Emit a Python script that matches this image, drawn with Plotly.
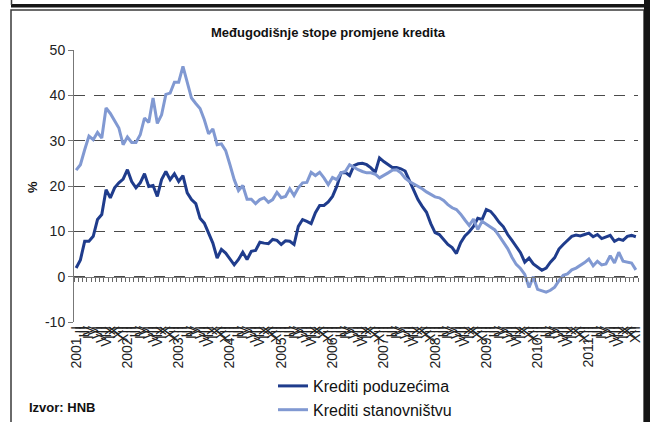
import plotly.graph_objects as go

# ---- data -------------------------------------------------------------
years = list(range(2001, 2012))
roman = ["I", "II", "III", "IV", "V", "VI", "VII", "VIII", "IX", "X", "XI", "XII"]
periods = [f"{y}-{m:02d}" for y in years for m in range(1, 13)]
tick_labels = [f"{y}. I" if m == 1 else roman[m - 1] for y in years for m in range(1, 13)]

krediti_poduzecima = [
    1.9, 3.7, 7.8, 7.8, 8.9, 12.6, 13.7, 19.2, 17.4, 19.6, 20.7, 21.5,
    23.6, 21.0, 19.6, 20.7, 22.7, 19.9, 20.1, 17.7, 21.4, 23.2, 21.4, 22.7,
    21.0, 22.3, 18.5, 17.0, 16.1, 12.9, 11.8, 9.6, 7.4, 4.1, 6.0, 5.2,
    3.8, 2.6, 3.8, 5.4, 3.8, 5.6, 5.8, 7.6, 7.4, 7.3, 8.2, 8.0,
    7.1, 7.9, 7.8, 7.1, 11.1, 12.6, 12.2, 11.7, 14.1, 15.7, 15.7, 16.5,
    17.7, 19.9, 22.9, 23.0, 22.3, 24.5, 24.9, 25.0, 24.7, 24.0, 23.0, 26.2,
    25.4, 24.8, 24.1, 24.1, 23.8, 23.3, 21.2, 18.9, 17.0, 15.5, 14.2, 11.7,
    9.7, 9.3, 8.3, 7.1, 6.4, 5.1, 7.5, 9.0, 9.9, 11.1, 12.9, 12.6,
    14.8, 14.4, 13.3, 12.0, 11.0, 9.3, 8.0, 6.7, 5.3, 3.2, 4.1, 2.8,
    2.1, 1.4, 1.9, 3.2, 4.2, 6.1, 7.1, 8.0, 8.9, 9.2, 9.0, 9.3,
    9.6, 8.8, 9.3, 8.4, 8.8, 9.1, 7.8, 8.3, 8.0, 8.9, 9.1, 8.8,
]

krediti_stanovnistvu = [
    23.5, 24.7, 28.0, 31.0, 30.2, 31.8, 30.6, 37.2, 36.0, 34.3, 32.8, 29.1,
    30.8, 29.6, 29.6, 31.3, 35.0, 34.0, 39.4, 33.8, 35.7, 40.2, 40.5, 42.9,
    42.9, 46.4, 42.7, 39.4, 38.2, 37.1, 34.6, 31.5, 32.6, 29.1, 29.3, 27.8,
    24.7, 21.4, 19.0, 20.1, 17.1, 17.1, 16.1, 17.0, 17.4, 16.4, 17.0, 18.6,
    17.4, 17.7, 19.4, 17.9, 19.6, 20.7, 20.8, 23.0, 22.3, 23.0, 21.8, 20.3,
    21.9, 21.4, 22.9, 23.2, 24.7, 24.1, 23.6, 23.2, 22.9, 22.9, 22.6, 21.8,
    22.3, 22.9, 23.5, 23.6, 22.9, 21.7, 21.0, 20.5, 20.0, 19.4, 18.7, 18.1,
    17.6, 17.4, 16.8, 15.9, 15.2, 14.8, 13.8, 12.5, 11.3, 12.7, 10.4, 12.2,
    11.6, 11.0, 10.3, 9.0, 7.7, 6.2, 4.3, 2.7, 1.8, 0.5, -2.4, 0.0,
    -2.8, -3.1, -3.4, -3.0, -2.3, -0.9, 0.3, 0.6, 1.5, 1.9, 2.5, 3.1,
    3.9, 2.4, 3.4, 2.6, 2.8, 4.6, 3.0, 5.4, 3.4, 3.2, 3.0, 1.5,
]

y_ticks = [-10, 0, 10, 20, 30, 40, 50]
y_tick_text = ["-10", "0", "10", "20", "30", "40", "50"]

# ---- layout helpers (pixel -> paper) -------------------------------------
W, H = 656, 422
L, R, T, B = 74, 18, 50, 100
PW, PH = W - L - R, H - T - B


def px(x):
    return (x - L) / PW


def py(y):
    return (H - B - y) / PH


FONT = "Liberation Sans, Arial, sans-serif"
DARK = "#1f3c8c"
LIGHT = "#8199d2"

fig = go.Figure()
fig.add_trace(go.Scatter(x=periods, y=krediti_poduzecima, mode="lines",
                         name="Krediti poduzećima",
                         line=dict(color=DARK, width=3)))
fig.add_trace(go.Scatter(x=periods, y=krediti_stanovnistvu, mode="lines",
                         name="Krediti stanovništvu",
                         line=dict(color=LIGHT, width=3)))

shapes = [
    # main frame
    dict(type="rect", xref="paper", yref="paper", x0=px(11), x1=px(644),
         y0=py(440), y1=py(10), line=dict(color="#3a3a3a", width=1.5),
         fillcolor="rgba(0,0,0,0)", layer="below"),
    # right thick shadow
    dict(type="rect", xref="paper", yref="paper", x0=px(644), x1=px(650),
         y0=py(440), y1=py(0), line=dict(width=0), fillcolor="#151515"),
    # bottom edge of the box above
    dict(type="rect", xref="paper", yref="paper", x0=px(11), x1=px(650),
         y0=py(7.5), y1=py(4), line=dict(width=0), fillcolor="#151515"),
    dict(type="line", xref="paper", yref="paper", x0=px(11.5), x1=px(11.5),
         y0=py(5), y1=py(0), line=dict(color="#3a3a3a", width=1.5)),
]

annotations = [
    dict(text="<b>Međugodišnje stope promjene kredita</b>", xref="paper", yref="paper",
         x=px(328), y=py(32), xanchor="center", yanchor="middle", showarrow=False,
         font=dict(family=FONT, size=13, color="#111")),
    dict(text="<b>%</b>", xref="paper", yref="paper", x=px(32), y=py(187),
         xanchor="center", yanchor="middle", showarrow=False, textangle=-90,
         font=dict(family=FONT, size=13, color="#111")),
    dict(text="<b>Izvor: HNB</b>", xref="paper", yref="paper", x=px(27), y=py(407),
         xanchor="left", yanchor="middle", showarrow=False,
         font=dict(family=FONT, size=13, color="#111")),
]

fig.update_layout(
    width=W, height=H,
    margin=dict(l=L, r=R, t=T, b=B, autoexpand=False),
    paper_bgcolor="white", plot_bgcolor="white",
    font=dict(family=FONT, size=14, color="#111"),
    shapes=shapes, annotations=annotations,
    showlegend=True,
    legend=dict(x=px(273), y=py(369), xanchor="left", yanchor="top",
                bgcolor="rgba(0,0,0,0)", font=dict(family=FONT, size=16, color="#111"),
                tracegroupgap=0),
    xaxis=dict(type="category", range=[-0.5, len(periods) - 0.5],
               tickmode="array", tickvals=periods, ticktext=tick_labels,
               tickangle=-90, tickfont=dict(family=FONT, size=14, color="#222"),
               showgrid=False, showline=False, ticks="", zeroline=False,
               automargin=False, fixedrange=True),
    xaxis2=dict(overlaying="x", anchor="free", position=10 / 60,
                range=[-0.5, len(periods) - 0.5], tickmode="linear",
                tick0=-0.5, dtick=1, ticks="outside", ticklen=4,
                tickcolor="#666", tickwidth=1, showticklabels=False,
                showline=True, linecolor="#777", linewidth=1,
                showgrid=False, zeroline=False, automargin=False),
    yaxis=dict(range=[-10, 50], tickmode="array", tickvals=y_ticks, ticktext=y_tick_text,
               showgrid=True, gridcolor="#4a4a4a", gridwidth=1, griddash="11px,9px",
               zeroline=False, showline=True, linecolor="#777", linewidth=1,
               ticks="outside", ticklen=5, tickcolor="#777",
               tickfont=dict(family=FONT, size=14, color="#222"),
               automargin=False),
)
# invisible helper trace so that the zero-level tick axis (xaxis2) is drawn
fig.add_trace(go.Scatter(x=[0], y=[None], xaxis="x2", showlegend=False,
                         hoverinfo="skip", mode="lines"))

fig.write_html("out.html", config={"displayModeBar": False},
               post_script="document.body.style.margin='0';document.body.style.overflow='hidden';")
